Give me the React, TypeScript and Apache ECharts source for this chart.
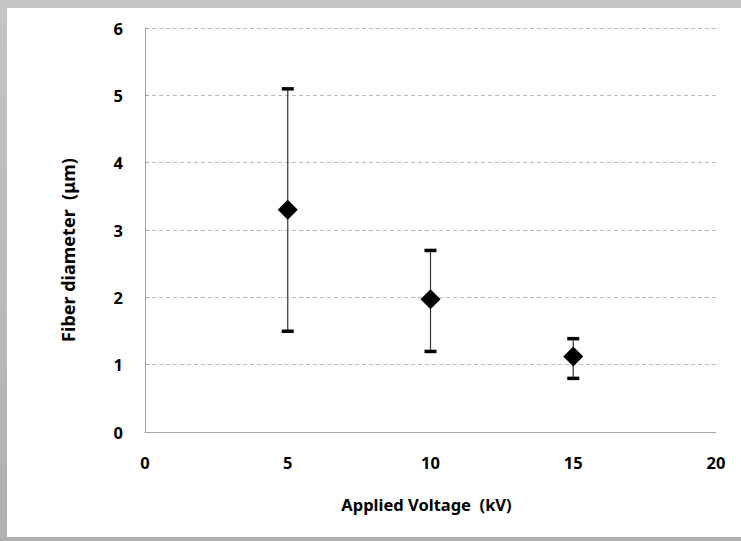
import React, { useEffect, useRef } from "react";
import * as echarts from "echarts";

const voltages = [5, 10, 15];
const meanDiameter = [3.3, 1.97, 1.12];
const lowerBound = [1.5, 1.2, 0.8];
const upperBound = [5.1, 2.7, 1.39];
const xTicks = [0, 5, 10, 15, 20];
const yTicks = [0, 1, 2, 3, 4, 5, 6];

export default function App() {
  const ref = useRef<HTMLDivElement>(null);
  useEffect(() => {
    if (!ref.current) return;
    const chart = echarts.init(ref.current, null, { renderer: "svg" });
    const font = "'Noto Sans', 'DejaVu Sans', sans-serif";
    const errData = voltages.map((v, i) => [v, lowerBound[i], upperBound[i]]);
    chart.setOption({
      animation: false,
      backgroundColor: "transparent",
      grid: { left: 145, right: 25, top: 28, bottom: 109, containLabel: false },
      xAxis: {
        type: "value",
        min: xTicks[0],
        max: xTicks[xTicks.length - 1],
        interval: 5,
        name: "Applied Voltage  (kV)",
        nameLocation: "middle",
        nameGap: 64,
        nameTextStyle: { fontFamily: font, fontSize: 16.5, fontWeight: "bold", color: "#000", padding: [0, 8, 0, 0] },
        axisLine: { show: true, onZero: false, lineStyle: { color: "#a6a6a6", width: 1 } },
        axisTick: { show: false },
        axisLabel: { margin: 22, fontFamily: font, fontSize: 16.5, fontWeight: "bold", color: "#000" },
        splitLine: { show: false },
      },
      yAxis: {
        type: "value",
        min: yTicks[0],
        max: yTicks[yTicks.length - 1],
        interval: 1,
        name: "Fiber diameter  (\u03bcm)",
        nameLocation: "middle",
        nameGap: 68,
        nameRotate: 90,
        nameTextStyle: { fontFamily: font, fontSize: 18, fontWeight: "bold", color: "#000", padding: [0, 40, 0, 0] },
        axisLine: { show: true, lineStyle: { color: "#a6a6a6", width: 1 } },
        axisTick: { show: true, inside: true, length: 4, lineStyle: { color: "#a6a6a6" } },
        axisLabel: { margin: 22, fontFamily: font, fontSize: 16.5, fontWeight: "bold", color: "#000" },
        splitLine: { show: true, lineStyle: { color: "#bdbdbd", type: [4, 3], width: 1 } },
      },
      series: [
        {
          type: "custom",
          data: errData,
          z: 2,
          renderItem: (params: any, api: any) => {
            const x = api.value(0);
            const lo = api.coord([x, api.value(1)]);
            const hi = api.coord([x, api.value(2)]);
            const cw = 6;
            return {
              type: "group",
              children: [
                {
                  type: "line",
                  shape: { x1: lo[0], y1: lo[1], x2: hi[0], y2: hi[1] },
                  style: { stroke: "#333", lineWidth: 1.2 },
                },
                {
                  type: "rect",
                  shape: { x: hi[0] - cw, y: hi[1] - 1.5, width: cw * 2, height: 3.5 },
                  style: { fill: "#000" },
                },
                {
                  type: "rect",
                  shape: { x: lo[0] - cw, y: lo[1] - 1.5, width: cw * 2, height: 3.5 },
                  style: { fill: "#000" },
                },
              ],
            };
          },
        },
        {
          type: "scatter",
          data: voltages.map((v, i) => [v, meanDiameter[i]]),
          symbol: "diamond",
          symbolSize: [20, 20],
          itemStyle: { color: "#000", opacity: 1 },
          z: 3,
        },
      ],
    });
    return () => chart.dispose();
  }, []);
  return (
    <div
      style={{
        position: "fixed",
        left: 0,
        top: 0,
        width: 741,
        height: 541,
        background: "linear-gradient(to bottom, #c4c4c4, #b0b0b0)",
        overflow: "hidden",
      }}
    >
      <div
        style={{
          position: "absolute",
          left: 7,
          top: 8,
          width: 734,
          height: 529,
          background: "#fff",
        }}
      />
      <div
        ref={ref}
        style={{ position: "absolute", left: 0, top: 0, width: 741, height: 541 }}
      />
    </div>
  );
}
